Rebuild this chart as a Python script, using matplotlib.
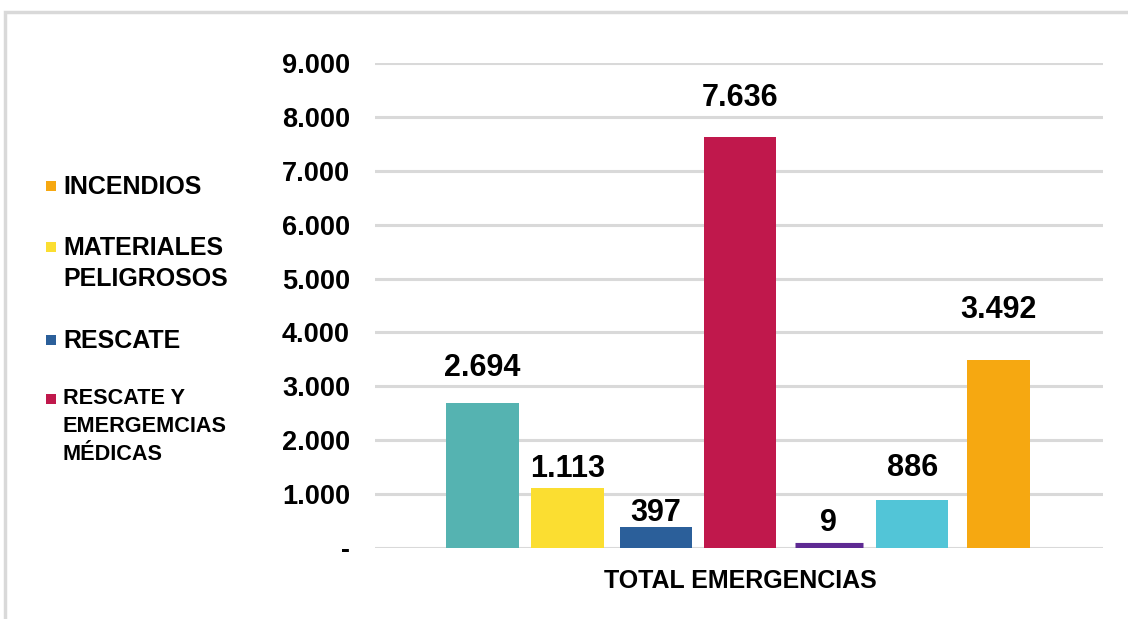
import matplotlib
matplotlib.use("Agg")
import matplotlib.pyplot as plt
from matplotlib.patches import Rectangle

# data
values = [2694, 1113, 397, 7636, 9, 886, 3492]
bar_colors = ["#55B3B1", "#FBDE31", "#2B5F9A", "#C0184C", "#5E2A93", "#52C5D7", "#F6A811"]
value_labels = ["2.694", "1.113", "397", "7.636", "9", "886", "3.492"]
category = "TOTAL EMERGENCIAS"
yticks = [0, 1000, 2000, 3000, 4000, 5000, 6000, 7000, 8000, 9000]
ytick_labels = ["-", "1.000", "2.000", "3.000", "4.000", "5.000", "6.000", "7.000", "8.000", "9.000"]
legend_labels = ["INCENDIOS", "MATERIALES\nPELIGROSOS", "RESCATE", "RESCATE Y\nEMERGEMCIAS\nMÉDICAS"]
legend_colors = ["#F6A811", "#FBDE31", "#2B5F9A", "#C0184C"]

# styling (label offsets in points above bar top, as placed in the original)
label_offsets = [25, 13.5, 10, 28, 17.5, 23, 36]
bar_positions = [0, 0.99, 2.02, 3.0, 4.03, 5.0, 6.0]
bar_widths = [0.84, 0.84, 0.84, 0.84, 0.79, 0.84, 0.73]
plt.rcParams["font.family"] = ["Liberation Sans", "DejaVu Sans"]
plt.rcParams["font.weight"] = "bold"

fig = plt.figure(figsize=(11.28, 6.19), dpi=100)
ax = fig.add_axes([375 / 1128, 1 - 548 / 619, (1103 - 375) / 1128, (548 - 63) / 619])

for i, v in enumerate(values):
    # tiny bars get a thick edge so they stay visible, like the original
    lw = 8 if v < 50 else 0
    ax.bar(bar_positions[i], v, width=bar_widths[i], color=bar_colors[i], edgecolor=bar_colors[i],
           linewidth=lw, zorder=3)
    ax.annotate(value_labels[i], (bar_positions[i], v), xytext=(0, label_offsets[i]),
                textcoords="offset points", ha="center", va="center", fontsize=22,
                fontweight="bold", color="black")

ax.set_xlim(-1.25, 7.22)
ax.set_ylim(0, 9000)
ax.set_yticks(yticks)
ax.set_yticklabels(ytick_labels, fontsize=19.5, fontweight="bold")
ax.tick_params(axis="y", length=0, pad=18)
ax.set_xticks([])
ax.yaxis.grid(True, color="#D9D9D9", linewidth=2.2, zorder=0)
for s in ax.spines.values():
    s.set_visible(False)
ax.set_axisbelow(True)

fig.text(740 / 1128, 1 - 581 / 619, category, ha="center", va="center",
         fontsize=18, fontweight="bold")

# legend drawn by hand to keep the original's layout
legend_y = [186, 247, 340, 399]
legend_sizes = [18, 18, 18, 15.6]
legend_spacing = [1.2, 1.35, 1.2, 1.45]
for lab, col, yy, fs, ls in zip(legend_labels, legend_colors, legend_y, legend_sizes, legend_spacing):
    fig.patches.append(Rectangle((46 / 1128, 1 - (yy + 5) / 619), 10 / 1128, 10 / 619,
                                 transform=fig.transFigure, facecolor=col, edgecolor="none"))
    fig.text(63 / 1128, 1 - (yy - 11) / 619, lab, ha="left", va="top", fontsize=fs,
             fontweight="bold", linespacing=ls)

# outer frame (only top and left edges visible)
fig.patches.append(Rectangle((5 / 1128, -0.1), 1.2, 1.1 - 12 / 619, transform=fig.transFigure,
                             facecolor="none", edgecolor="#D9D9D9", linewidth=2.5, clip_on=False))

fig.savefig("out.png", dpi=100)
